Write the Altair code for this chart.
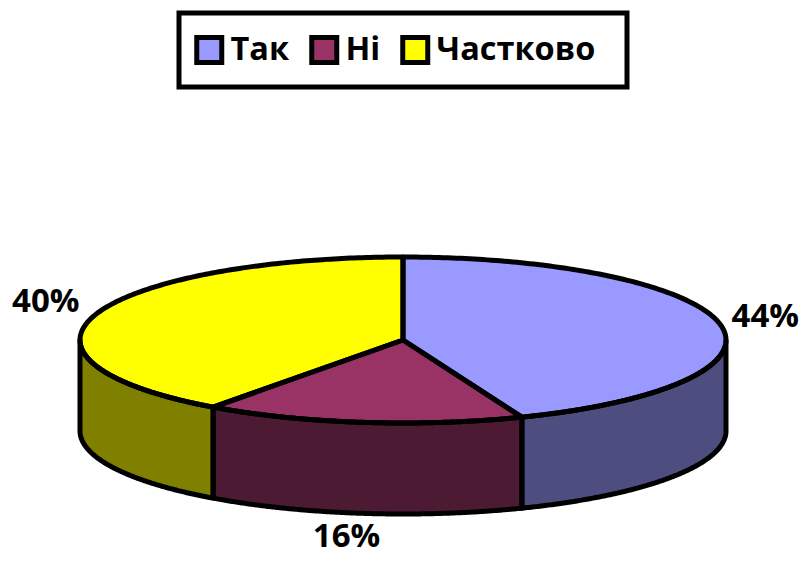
import numpy as np
import pandas as pd
import altair as alt

categories = ["Так", "Ні", "Частково"]
shares = [44, 16, 40]
labels = ["44%", "16%", "40%"]
top_colors = ["#9999FF", "#993366", "#FFFF00"]
wall_colors = ["#4D4D80", "#4D1A33", "#808000"]
label_shift = [(45, -7), (-16, 115), (-50, -12)]

FONT = "Open Sans"
W, H = 791, 549
CX, CY, RX, RY = 403 - 8, 340 - 8, 323, 83
DEPTH = 91 / RY
x_dom = [-CX / RX, (W - CX) / RX]
y_dom = [(CY - H) / RY, CY / RY]


def rim(theta):
    return np.sin(theta), np.cos(theta)


edges = np.radians(np.cumsum([0] + shares) * 3.6)
top_rows, line_rows, wall_rows, text_rows = [], [], [], []

for i, cat in enumerate(categories):
    a, b = edges[i], edges[i + 1]
    th = np.linspace(a, b, 200)
    px, py = rim(th)
    poly_x = np.r_[0, px, 0]
    poly_y = np.r_[0, py, 0]
    for k, (u, v) in enumerate(zip(poly_x, poly_y)):
        line_rows.append(dict(part=f"top{i}", k=k, x=u, y=v))
    xs = np.unique(np.r_[np.linspace(poly_x.min(), poly_x.max(), 500), poly_x])
    for x0 in xs:
        hits = []
        for j in range(len(poly_x) - 1):
            x1, x2, y1, y2 = poly_x[j], poly_x[j + 1], poly_y[j], poly_y[j + 1]
            if min(x1, x2) <= x0 <= max(x1, x2):
                hits += [y1, y2] if x1 == x2 else [y1 + (y2 - y1) * (x0 - x1) / (x2 - x1)]
        if hits:
            top_rows.append(dict(cat=cat, x=x0, y=max(hits), y2=min(hits)))
    lo, hi = max(a, np.pi / 2), min(b, 3 * np.pi / 2)
    if lo < hi:
        tw = np.linspace(lo, hi, 200)
        wx, wy = rim(tw)
        for u, v in zip(wx, wy):
            wall_rows.append(dict(hex=wall_colors[i], x=u, y=v, y2=v - DEPTH))
        loop_x = np.r_[wx, wx[::-1], wx[0]]
        loop_y = np.r_[wy, (wy - DEPTH)[::-1], wy[0]]
        for k, (u, v) in enumerate(zip(loop_x, loop_y)):
            line_rows.append(dict(part=f"wall{i}", k=k, x=u, y=v))
    mx, my = rim((a + b) / 2)
    text_rows.append(dict(t=labels[i], x=mx, y=my))

X = alt.X("x:Q", scale=alt.Scale(domain=x_dom, nice=False, zero=False), axis=None)
Y = alt.Y("y:Q", scale=alt.Scale(domain=y_dom, nice=False, zero=False), axis=None)

walls = alt.Chart(pd.DataFrame(wall_rows)).mark_area(interpolate="linear").encode(
    x=X, y=Y, y2="y2:Q", color=alt.Color("hex:N", scale=None, legend=None), detail="hex:N"
)
tops = alt.Chart(pd.DataFrame(top_rows)).mark_area(interpolate="linear").encode(
    x=X, y=Y, y2="y2:Q",
    color=alt.Color(
        "cat:N",
        scale=alt.Scale(domain=categories, range=top_colors),
        sort=categories,
        legend=alt.Legend(
            title=["\u00a0", "\u00a0"], titleOrient="right", titleFont="Liberation Sans",
            titleFontWeight="normal", titleFontSize=6, titleLineHeight=24, titlePadding=18,
            orient="none", direction="horizontal", legendX=171, legendY=5,
            symbolType="square", symbolSize=625, symbolStrokeColor="black", symbolStrokeWidth=5,
            labelFont=FONT, labelFontSize=32.5, labelFontWeight="bold", labelColor="black", labelLimit=400,
            labelOffset=5, columnPadding=18, padding=14, clipHeight=46,
            strokeColor="black", fillColor="white", symbolOpacity=1,
        ),
    ),
)
lines = alt.Chart(pd.DataFrame(line_rows)).mark_line(
    color="black", strokeWidth=5, strokeJoin="round", interpolate="linear"
).encode(x=X, y=Y, detail="part:N", order="k:Q")

layers = [walls, tops, lines]
for row, (dx, dy) in zip(text_rows, label_shift):
    layers.append(
        alt.Chart(pd.DataFrame([row])).mark_text(
            font=FONT, fontSize=33, fontWeight="bold", color="black", dx=dx, dy=dy,
            align="center", baseline="middle",
        ).encode(x=X, y=Y, text="t:N")
    )

chart = (
    alt.layer(*layers)
    .resolve_scale(color="independent")
    .properties(width=W, height=H, padding=0, autosize=alt.AutoSizeParams(type="none"), background="white")
    .configure_view(stroke=None)
    .configure_legend(strokeWidth=5)
)
chart.save("out.html", embed_options={"renderer": "svg", "actions": False})
